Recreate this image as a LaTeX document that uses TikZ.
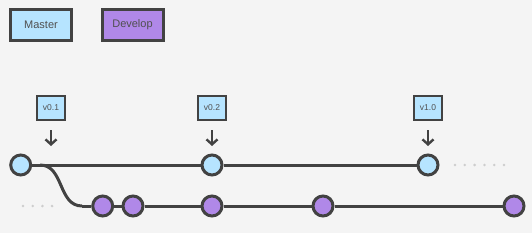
\documentclass[tikz,border=0pt]{standalone}
\usepackage{fontspec}
\setmainfont{Liberation Sans}
\usetikzlibrary{arrows.meta}
\definecolor{bg}{RGB}{244,244,244}
\definecolor{edge}{RGB}{66,66,66}
\definecolor{mblue}{RGB}{182,228,255}
\definecolor{dpurple}{RGB}{176,136,232}
\definecolor{txt}{RGB}{80,80,80}
\definecolor{dotc}{RGB}{205,205,205}
\begin{document}
\begin{tikzpicture}[x=1pt,y=-1pt,
  legendbox/.style={draw=edge,line width=3pt,minimum width=61pt,minimum height=31pt,inner sep=0pt,
    font=\fontsize{11}{13}\selectfont,text=txt},
  tagbox/.style={draw=edge,line width=2pt,fill=mblue,minimum width=28pt,minimum height=24pt,inner sep=0pt,
    font=\fontsize{8.5}{10}\selectfont,text=txt},
  mcommit/.style={circle,draw=edge,line width=3pt,fill=mblue,minimum size=20pt,inner sep=0pt},
  dcommit/.style={circle,draw=edge,line width=3pt,fill=dpurple,minimum size=20pt,inner sep=0pt},
  branchline/.style={draw=edge,line width=3pt},
  tagarrow/.style={draw=edge,line width=2.4pt,-{Straight Barb[length=5pt,width=11pt]},shorten <=9pt,shorten >=7.5pt},
  dotmark/.style={fill=dotc,draw=none}]
\fill[bg] (0,0) rectangle (532,233);
\useasboundingbox (0,0) rectangle (532,233);
% legend
\node[legendbox,fill=mblue] (lm) at (41,25) {Master};
\node[legendbox,fill=dpurple] (ld) at (132.5,25) {Develop};
% coordinates for the branch curve
\coordinate (b1) at (40,165);
\coordinate (b2) at (82,206);
\draw[branchline] (b1) .. controls (64,165) and (58,206) .. (b2);
% commits
\node[mcommit] (m1) at (20.7,165) {};
\node[mcommit] (m2) at (212,165) {};
\node[mcommit] (m3) at (428,165) {};
\node[dcommit] (d1) at (102.7,206) {};
\node[dcommit] (d2) at (133,206) {};
\node[dcommit] (d3) at (212,206) {};
\node[dcommit] (d4) at (323,206) {};
\node[dcommit] (d5) at (514,206) {};
\draw[branchline] (m1) -- (m2);
\draw[branchline] (m2) -- (m3);
\draw[branchline] (b2) -- (d1);
\draw[branchline] (d1) -- (d2);
\draw[branchline] (d2) -- (d3);
\draw[branchline] (d3) -- (d4);
\draw[branchline] (d4) -- (d5);
% tags
\node[tagbox] (t1) at (51,108) {v0.1};
\node[tagbox] (t2) at (212,108) {v0.2};
\node[tagbox] (t3) at (428,108) {v1.0};
\coordinate (a1) at (51,165);
\draw[tagarrow] (t1) -- (a1|-m1.north);
\draw[tagarrow] (t2) -- (m2);
\draw[tagarrow] (t3) -- (m3);
% dots
\foreach \i in {0,...,5} \fill[dotmark] (455+\i*9.8,165) circle (1.4pt);
\foreach \i in {0,...,3} \fill[dotmark] (23+\i*9.7,206) circle (1.4pt);
\end{tikzpicture}
\end{document}
